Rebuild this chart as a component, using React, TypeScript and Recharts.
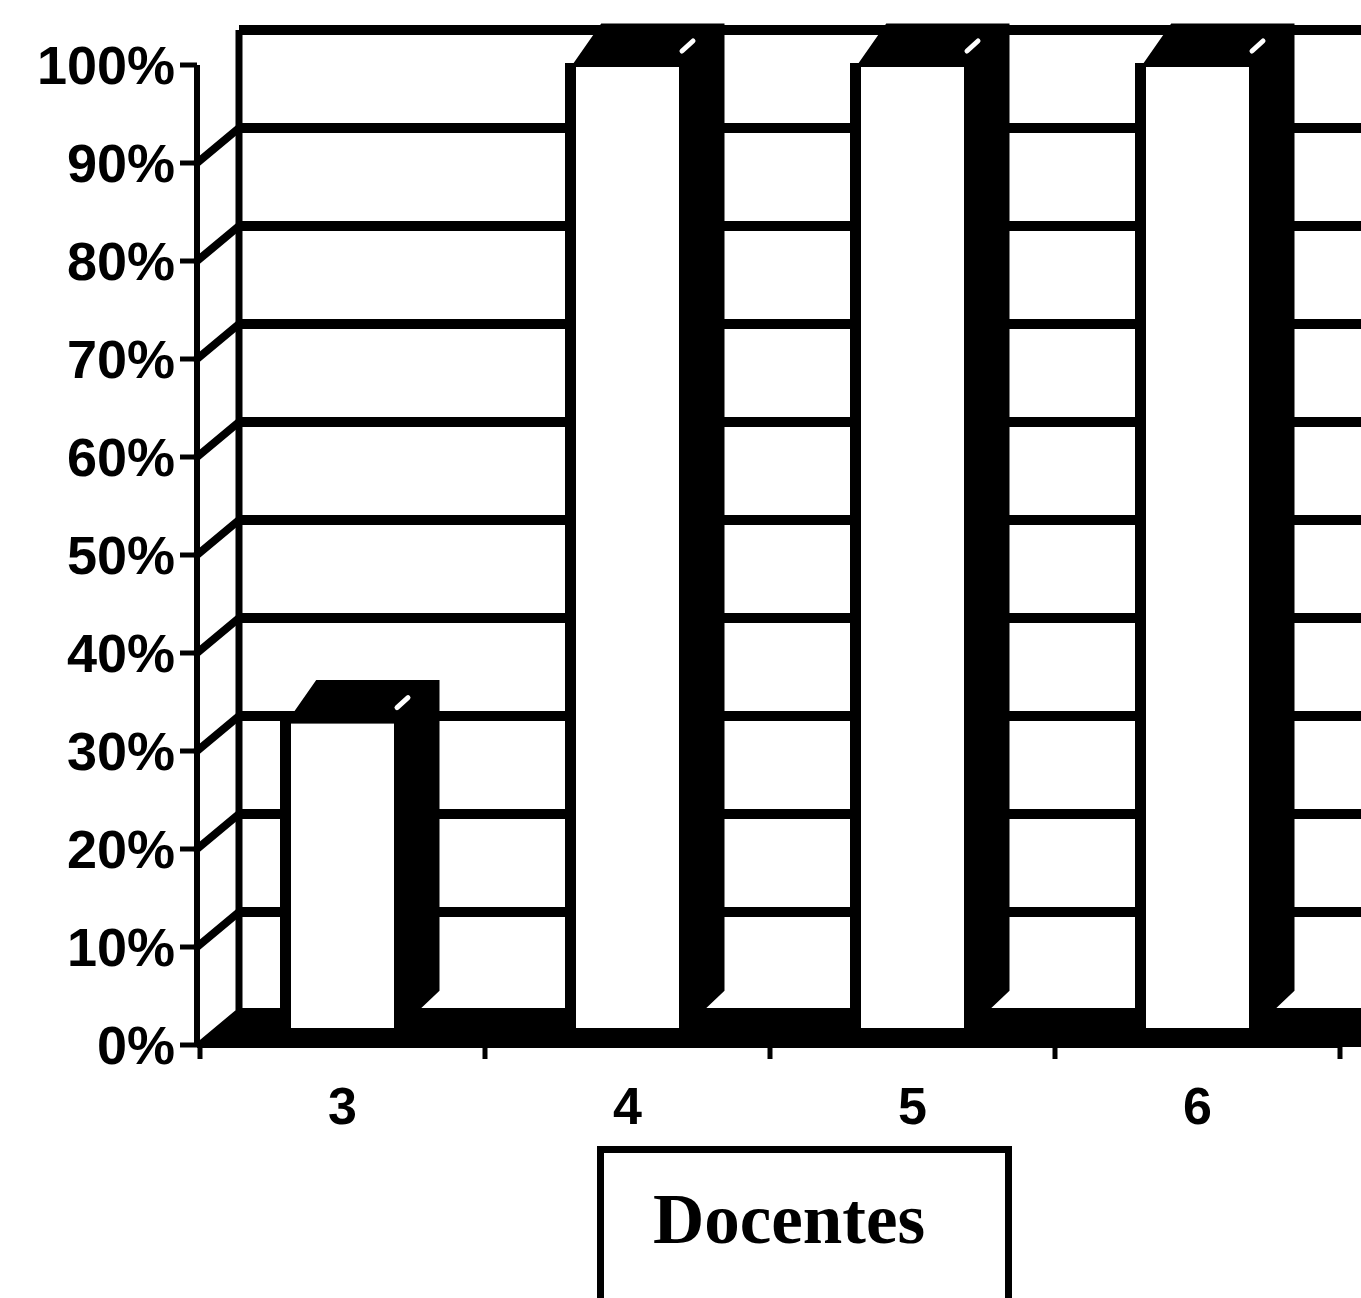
import React from 'react'
import { BarChart, Bar, XAxis, YAxis, CartesianGrid } from 'recharts'

const categories = ['3', '4', '5', '6']
const docentes = [33, 100, 100, 100]
const yTicks = [0, 10, 20, 30, 40, 50, 60, 70, 80, 90, 100]
const seriesName = 'Docentes'

const data = categories.map((c, i) => ({ name: c, docentes: docentes[i] }))

// depth of the back wall and of the bars (3d look)
const WALL_DX = 42
const WALL_DY = 35
const BAR_DX = 42
const BAR_DY = 40
const LIFT = 15

function WallLine(props: any) {
  const { x1, y1, x2, y, height, index } = props
  const bottom = y + height
  const isTop = Math.abs(y1 - y) < 1
  const isBottom = Math.abs(y1 - bottom) < 1
  const bx = x1 + WALL_DX
  const by = y1 - WALL_DY
  const far = x2 + WALL_DX + 80
  if (isBottom) {
    return (
      <g key={`wall-${index}`}>
        <polygon
          points={`${x1},${y1} ${bx},${by} ${far},${by} ${far},${y1}`}
          fill="#000"
          stroke="#000"
          strokeWidth={4}
        />
      </g>
    )
  }
  return (
    <g key={`wall-${index}`}>
      {!isTop && (
        <line x1={x1} y1={y1} x2={bx} y2={by} stroke="#000" strokeWidth={8} strokeLinecap="round" />
      )}
      <line x1={bx} y1={by} x2={far} y2={by} stroke="#000" strokeWidth={10} />
      {isTop && <line x1={bx} y1={by} x2={bx} y2={bottom - WALL_DY} stroke="#000" strokeWidth={7} />}
    </g>
  )
}

function Bar3D(props: any) {
  const { x, y, width, height } = props
  if (!height) return null
  const top = y
  const bottom = y + height - LIFT
  const r = x + width
  return (
    <g>
      <polygon
        points={`${x},${top} ${x + 28},${top - BAR_DY} ${r + BAR_DX},${top - BAR_DY} ${r + BAR_DX},${bottom - BAR_DY} ${r},${bottom}`}
        fill="#000"
        stroke="#000"
        strokeWidth={3}
      />
      <rect x={x - 9} y={top - 2} width={11} height={bottom - top + 2} fill="#000" />
      <rect x={x} y={top} width={width} height={bottom - top} fill="#fff" stroke="#000" strokeWidth={4} />
      <line
        x1={r + 1}
        y1={top - 14}
        x2={r + 12}
        y2={top - 24}
        stroke="#fff"
        strokeWidth={5}
        strokeLinecap="round"
      />
    </g>
  )
}

function CategoryTick(props: any) {
  const { x, y, payload, index, visibleTicksCount } = props
  const half = payload && payload.offset ? payload.offset : 142.5
  return (
    <g>
      <line x1={x - half} y1={y} x2={x - half} y2={y + 14} stroke="#000" strokeWidth={5} />
      {index === visibleTicksCount - 1 && (
        <line x1={x + half} y1={y} x2={x + half} y2={y + 14} stroke="#000" strokeWidth={5} />
      )}
      <text
        x={x}
        y={y + 79}
        textAnchor="middle"
        fill="#000"
        fontSize={52}
        fontWeight={700}
        fontFamily="Liberation Sans, Arial, sans-serif"
      >
        {payload.value}
      </text>
    </g>
  )
}

export default function App() {
  return (
    <div style={{ position: 'relative', width: 1361, height: 1298, overflow: 'hidden', background: '#fff' }}>
      <style>{'html,body{margin:0;padding:0;overflow:hidden;background:#fff}'}</style>
      <BarChart
        width={1361}
        height={1298}
        data={data}
        margin={{ top: 65, right: 21, bottom: 0, left: 0 }}
      >
        <CartesianGrid horizontal={WallLine} vertical={false} />
        <XAxis
          dataKey="name"
          interval={0}
          height={253}
          padding={{ left: 3, right: 0 }}
          axisLine={{ stroke: '#000', strokeWidth: 6 }}
          tickLine={false}
          tickSize={0}
          tickMargin={0}
          tick={CategoryTick}
        />
        <YAxis
          width={197}
          domain={[0, 100]}
          ticks={yTicks}
          interval={0}
          tickFormatter={(v: number) => `${v}%`}
          axisLine={{ stroke: '#000', strokeWidth: 6 }}
          tickLine={{ stroke: '#000', strokeWidth: 5 }}
          tickSize={17}
          tickMargin={5}
          tick={{ fill: '#000', fontSize: 54, fontWeight: 700, fontFamily: 'Liberation Sans, Arial, sans-serif' }}
        />
        <Bar dataKey="docentes" name={seriesName} barSize={107} shape={Bar3D} isAnimationActive={false} />
      </BarChart>
      <div
        style={{
          position: 'absolute',
          left: 597,
          top: 1146,
          width: 415,
          height: 220,
          border: '7px solid #000',
          boxSizing: 'border-box',
          background: '#fff',
        }}
      >
        <span
          style={{
            position: 'absolute',
            left: 49,
            top: 31,
            fontFamily: 'Liberation Serif, Times New Roman, serif',
            fontWeight: 700,
            fontSize: 71,
            lineHeight: 1,
            color: '#000',
            whiteSpace: 'nowrap',
          }}
        >
          {seriesName}
        </span>
      </div>
    </div>
  )
}
